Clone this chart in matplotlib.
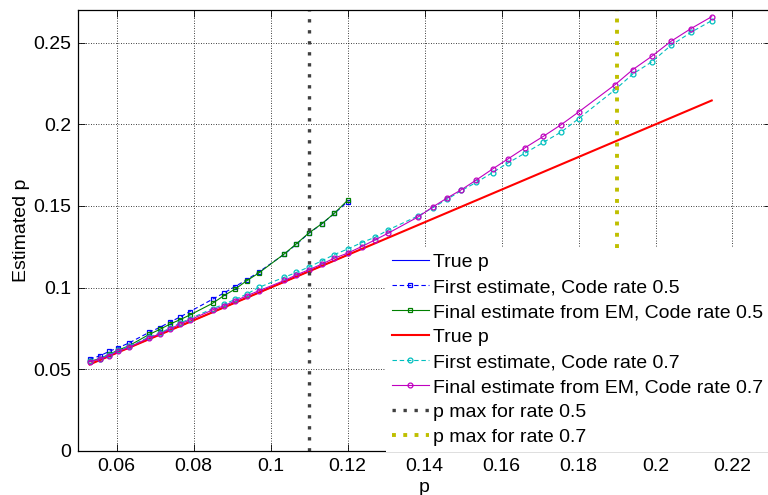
import matplotlib
matplotlib.use("Agg")
import matplotlib.pyplot as plt
from matplotlib.ticker import FormatStrFormatter

plt.rcParams['font.family'] = ['Liberation Sans', 'DejaVu Sans']

# true crossover probability, rate 0.5 runs
p_r05 = [0.0530, 0.0556, 0.0581, 0.0605, 0.0633, 0.0685, 0.0712, 0.0738, 0.0764, 0.0791,
         0.0850, 0.0878, 0.0908, 0.0938, 0.0969, 0.1036, 0.1067, 0.1099, 0.1133, 0.1166,
         0.1200]
first_r05 = [0.0562, 0.0582, 0.0610, 0.0633, 0.0662, 0.0727, 0.0756, 0.0789, 0.0819, 0.0854,
             0.0930, 0.0966, 0.1007, 0.1048, 0.1095, 0.1205, 0.1265, 0.1332, 0.1390, 0.1455,
             0.1525]
em_r05 = [0.0548, 0.0565, 0.0592, 0.0618, 0.0645, 0.0714, 0.0744, 0.0776, 0.0803, 0.0833,
          0.0905, 0.0950, 0.0991, 0.1042, 0.1089, 0.1207, 0.1268, 0.1334, 0.1391, 0.1456,
          0.1534]

# rate 0.7 runs
p_r07 = [0.0530, 0.0556, 0.0581, 0.0605, 0.0633, 0.0685, 0.0712, 0.0738, 0.0764, 0.0791,
         0.0850, 0.0878, 0.0908, 0.0938, 0.0969, 0.1036, 0.1067, 0.1099, 0.1133, 0.1166,
         0.1200, 0.1237, 0.1272, 0.1306, 0.1384, 0.1422, 0.1458, 0.1496, 0.1535, 0.1577,
         0.1618, 0.1662, 0.1709, 0.1755, 0.1800, 0.1895, 0.1941, 0.1990, 0.2040, 0.2092,
         0.2146]
first_r07 = [0.0550, 0.0566, 0.0588, 0.0617, 0.0640, 0.0699, 0.0721, 0.0752, 0.0782, 0.0810,
             0.0872, 0.0897, 0.0928, 0.0960, 0.1001, 0.1064, 0.1093, 0.1126, 0.1164, 0.1203,
             0.1236, 0.1276, 0.1309, 0.1354, 0.1440, 0.1490, 0.1540, 0.1595, 0.1645, 0.1705,
             0.1765, 0.1825, 0.1890, 0.1953, 0.2034, 0.2212, 0.2308, 0.2382, 0.2483, 0.2563,
             0.2635]
em_r07 = [0.0547, 0.0562, 0.0584, 0.0611, 0.0635, 0.0694, 0.0716, 0.0746, 0.0776, 0.0803,
          0.0864, 0.0888, 0.0919, 0.0950, 0.0980, 0.1044, 0.1078, 0.1109, 0.1144, 0.1181,
          0.1211, 0.1252, 0.1293, 0.1334, 0.1434, 0.1495, 0.1548, 0.1600, 0.1660, 0.1727,
          0.1790, 0.1858, 0.1927, 0.1998, 0.2075, 0.2243, 0.2335, 0.2416, 0.2508, 0.2586,
          0.2659]

pmax_r05 = 0.11
pmax_r07 = 0.19

fig = plt.figure(figsize=(7.68, 4.95), dpi=100)
ax = fig.add_axes([0.1016, 0.0889, 0.9023, 0.8909])

ax.plot(p_r05, p_r05, '-', color='b', lw=0.8, label='True p')
ax.plot(p_r05, first_r05, color='b', lw=0.8, dashes=(4, 2.5), marker='s', ms=3.5,
        mfc='none', mew=0.9, label='First estimate, Code rate 0.5')
ax.plot(p_r05, em_r05, '-', color=(0, 0.5, 0), lw=0.8, marker='s', ms=3.5,
        mfc='none', mew=0.9, label='Final estimate from EM, Code rate 0.5')
ax.plot(p_r07, p_r07, '-', color='r', lw=1.5, label='True p')
ax.plot(p_r07, first_r07, color=(0, 0.75, 0.75), lw=0.8, dashes=(4, 2.5), marker='o', ms=3.5,
        mfc='none', mew=0.9, label='First estimate, Code rate 0.7')
ax.plot(p_r07, em_r07, '-', color=(0.75, 0, 0.75), lw=0.8, marker='o', ms=3.5,
        mfc='none', mew=0.9, label='Final estimate from EM, Code rate 0.7')
ax.plot([pmax_r05, pmax_r05], [0, 0.27], color=(0.25, 0.25, 0.25), lw=2.4,
        linestyle=(0, (1, 2.3)), dash_capstyle='butt', label='p max for rate 0.5')
ax.plot([pmax_r07, pmax_r07], [0, 0.27], color=(0.75, 0.75, 0), lw=2.8,
        linestyle=(0, (1, 1.9)), dash_capstyle='butt', label='p max for rate 0.7')

ax.set_xlim(0.05, 0.23)
ax.set_ylim(0, 0.27)
ax.set_xticks([0.06, 0.08, 0.1, 0.12, 0.14, 0.16, 0.18, 0.2, 0.22])
ax.set_yticks([0, 0.05, 0.1, 0.15, 0.2, 0.25])
ax.xaxis.set_major_formatter(FormatStrFormatter('%g'))
ax.yaxis.set_major_formatter(FormatStrFormatter('%g'))
ax.tick_params(direction='in', length=5, width=0.6, labelsize=14, top=True, right=True, pad=5)
ax.grid(True, color='k', linestyle=(0, (1, 2)), lw=0.6)
for s in ax.spines.values():
    s.set_linewidth(0.9)

ax.set_xlabel('p', fontsize=14, labelpad=3)
ax.set_ylabel('Estimated p', fontsize=14, labelpad=2)

leg = ax.legend(loc='lower left', bbox_to_anchor=(386 / 768, 43 / 495),
                bbox_transform=fig.transFigure, fontsize=14, numpoints=1,
                handlelength=1.9, handletextpad=0.2, labelspacing=0.38,
                borderpad=0.3, borderaxespad=0, fancybox=False, framealpha=1)
leg.get_frame().set_edgecolor('white')
leg.get_frame().set_linewidth(0)

fig.savefig('out.png', dpi=100)
